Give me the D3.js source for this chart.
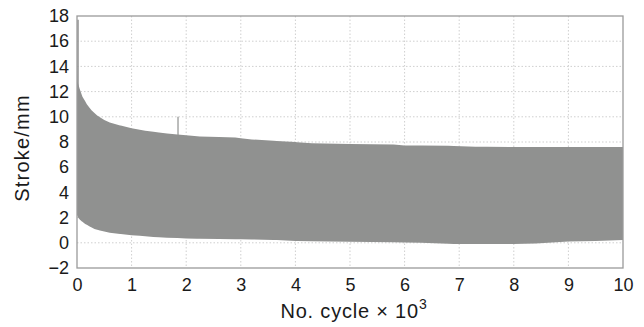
<!DOCTYPE html>
<html>
<head>
<meta charset="utf-8">
<script src="https://cdn.jsdelivr.net/npm/d3@7"></script>
<style>
  html, body { margin: 0; padding: 0; background: #fff; }
  svg { display: block; font-family: "Liberation Sans", Arial, sans-serif; }
</style>
</head>
<body>
<div id="chart"></div>
<script>
// x in thousands of cycles, y in mm
const xTicks = [0, 1, 2, 3, 4, 5, 6, 7, 8, 9, 10];
const yTicks = [-2, 0, 2, 4, 6, 8, 10, 12, 14, 16, 18];

// upper envelope of the stroke signal
const upperX = [0, 0.01, 0.05, 0.1, 0.18, 0.27, 0.37, 0.5, 0.6, 0.8, 1.0, 1.25, 1.5, 1.84,
  2.2, 2.6, 2.9, 3.2, 3.6, 4.0, 4.3, 5.0, 5.8, 6.0, 6.8, 7.3, 8.0, 9.0, 10];
const upperY = [14.0, 12.8, 12.2, 11.6, 11.0, 10.5, 10.1, 9.75, 9.55, 9.3, 9.1, 8.9, 8.75, 8.6,
  8.45, 8.4, 8.35, 8.2, 8.1, 8.0, 7.9, 7.85, 7.8, 7.72, 7.7, 7.62, 7.6, 7.6, 7.6];

// lower envelope
const lowerX = [0, 0.02, 0.05, 0.09, 0.15, 0.24, 0.32, 0.42, 0.6, 0.79, 1.0, 1.15, 1.4, 1.65,
  2.0, 2.25, 3.0, 3.66, 4.03, 5.0, 6.0, 6.3, 6.9, 7.5, 8.0, 8.4, 9.0, 9.5, 10];
const lowerY = [2.2, 2.0, 1.85, 1.7, 1.5, 1.28, 1.1, 0.97, 0.8, 0.7, 0.6, 0.55, 0.47, 0.4,
  0.35, 0.32, 0.28, 0.22, 0.14, 0.08, 0.03, 0.0, -0.1, -0.1, -0.1, -0.05, 0.1, 0.15, 0.22];

// single spike and the start-up peak
const spikeX = [1.85];
const spikeY = [10.0];
const peakX = [0];
const peakY = [17.7];

const width = 644, height = 327;
const margin = { top: 16, right: 21, bottom: 59, left: 77 };
const iw = width - margin.left - margin.right;
const ih = height - margin.top - margin.bottom;

const svg = d3.select('#chart').append('svg')
  .attr('width', width)
  .attr('height', height);

const g = svg.append('g').attr('transform', `translate(${margin.left},${margin.top})`);

const x = d3.scaleLinear().domain([0, 10]).range([0, iw]);
const y = d3.scaleLinear().domain([-2, 18]).range([ih, 0]);

// dotted grid
g.append('g').selectAll('line.vgrid')
  .data(xTicks.slice(1, -1))
  .enter().append('line')
  .attr('x1', d => x(d)).attr('x2', d => x(d))
  .attr('y1', 0).attr('y2', ih)
  .attr('stroke', '#cfcfcf').attr('stroke-width', 1)
  .attr('stroke-dasharray', '1.5,2');

g.append('g').selectAll('line.hgrid')
  .data(yTicks.slice(1, -1))
  .enter().append('line')
  .attr('x1', 0).attr('x2', iw)
  .attr('y1', d => y(d)).attr('y2', d => y(d))
  .attr('stroke', '#cfcfcf').attr('stroke-width', 1)
  .attr('stroke-dasharray', '1.5,2');

// band between envelopes
const band = upperX.map((d, i) => ({ x: d, hi: upperY[i], lo: d3.scaleLinear().domain(lowerX).range(lowerY)(d) }));
// use both envelopes' own sample points
const allX = Array.from(new Set(upperX.concat(lowerX))).sort((a, b) => a - b);
const upInterp = d3.scaleLinear().domain(upperX).range(upperY);
const loInterp = d3.scaleLinear().domain(lowerX).range(lowerY);
const bandData = allX.map(d => ({ x: d, hi: upInterp(d), lo: loInterp(d) }));

const area = d3.area()
  .x(d => x(d.x))
  .y0(d => y(d.lo))
  .y1(d => y(d.hi))
  .curve(d3.curveLinear);

g.append('path')
  .datum(bandData)
  .attr('d', area)
  .attr('fill', '#909190');

// spike and start-up peak
g.selectAll('line.spike')
  .data(spikeX.map((d, i) => ({ x: d, y: spikeY[i] })))
  .enter().append('line')
  .attr('x1', d => x(d.x)).attr('x2', d => x(d.x))
  .attr('y1', d => y(d.y)).attr('y2', y(8))
  .attr('stroke', '#909190').attr('stroke-width', 1.2);

g.selectAll('line.peak')
  .data(peakX.map((d, i) => ({ x: d, y: peakY[i] })))
  .enter().append('line')
  .attr('x1', d => x(d.x) + 1).attr('x2', d => x(d.x) + 1)
  .attr('y1', d => y(d.y)).attr('y2', y(12))
  .attr('stroke', '#909190').attr('stroke-width', 1.5);

// frame
g.append('rect')
  .attr('x', 0).attr('y', 0)
  .attr('width', iw).attr('height', ih)
  .attr('fill', 'none')
  .attr('stroke', '#9a9a9a')
  .attr('stroke-width', 1.3);

// axes (labels only, no tick marks)
const xAxis = g.append('g')
  .attr('transform', `translate(0,${ih})`)
  .call(d3.axisBottom(x).tickValues(xTicks).tickSize(0).tickPadding(10).tickFormat(d3.format('d')));
const yAxis = g.append('g')
  .call(d3.axisLeft(y).tickValues(yTicks).tickSize(0).tickPadding(8)
    .tickFormat(d => d < 0 ? '\u2212' + Math.abs(d) : String(d)));

[xAxis, yAxis].forEach(a => {
  a.select('.domain').remove();
  a.selectAll('text')
    .attr('font-size', 18)
    .attr('font-family', '"Liberation Sans", Arial, sans-serif')
    .attr('fill', '#1a1a1a');
});

// axis titles
const xTitle = svg.append('text')
  .attr('x', margin.left + iw / 2 + 4)
  .attr('y', 318)
  .attr('text-anchor', 'middle')
  .attr('font-size', 20)
  .attr('letter-spacing', 0.8)
  .attr('fill', '#1a1a1a');
xTitle.append('tspan').text('No. cycle \u00d7 10');
xTitle.append('tspan').attr('dy', -9).attr('font-size', 14).text('3');

svg.append('text')
  .attr('transform', `translate(29,${margin.top + ih / 2 + 6}) rotate(-90)`)
  .attr('text-anchor', 'middle')
  .attr('font-size', 20)
  .attr('letter-spacing', 1.2)
  .attr('fill', '#1a1a1a')
  .text('Stroke/mm');
</script>
</body>
</html>
